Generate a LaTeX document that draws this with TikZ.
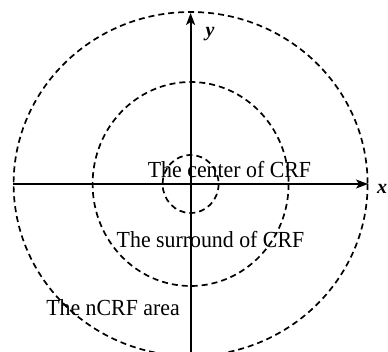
\documentclass[tikz,border=0pt]{standalone}
\usepackage{fontspec}
\setmainfont{Liberation Serif}
\usetikzlibrary{arrows.meta}
\begin{document}
\begin{tikzpicture}[x=1pt,y=-1pt,
  ring/.style={draw,line width=1.7pt,dash pattern=on 6pt off 4pt},
  axis/.style={draw,line width=1.8pt,-{Stealth[length=12pt,width=9pt,inset=3pt]}},
  lbl/.style={font=\fontsize{23pt}{25pt}\selectfont,inner sep=0pt,anchor=base,xscale=0.95},
  axlbl/.style={font=\fontsize{20pt}{22pt}\selectfont\bfseries\itshape,inner sep=0pt}]
\useasboundingbox (0,0) rectangle (388,352);
\coordinate (O) at (190.6,184);
\draw[ring] (O) ellipse [x radius=177, y radius=172];
\draw[ring] (O) ellipse [x radius=98, y radius=102];
\draw[ring] (O) ellipse [x radius=28, y radius=29];
\coordinate (xs) at (13,184);
\coordinate (xe) at (368,184);
\coordinate (ys) at (190.6,360);
\coordinate (ye) at (190.6,13);
\draw[axis] (xs) -- (xe);
\draw[axis] (ys) -- (ye);
\node[axlbl] (ylab) at (210,34) {y};
\node[axlbl] (xlab) at (382,189) {x};
\node[lbl] (center) at (229.5,178) {The center of CRF};
\node[lbl] (surr) at (210.5,248) {The surround of CRF};
\node[lbl] (ncrf) at (113,316) {The nCRF area};
\end{tikzpicture}
\end{document}
